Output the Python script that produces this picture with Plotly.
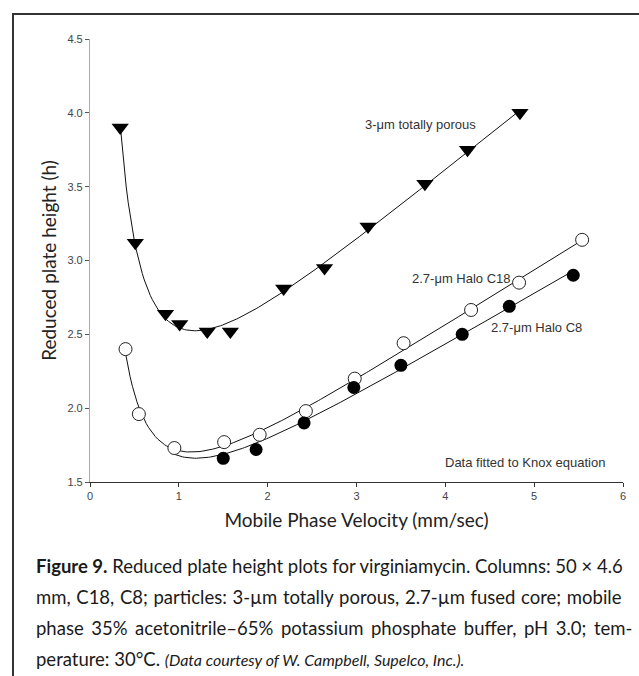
import numpy as np
import plotly.graph_objects as go

# ---- data ----
porous_x = [0.34, 0.51, 0.85, 1.01, 1.32, 1.58, 2.18, 2.64, 3.13, 3.77, 4.25, 4.84]
porous_y = [3.90, 3.12, 2.64, 2.57, 2.52, 2.52, 2.81, 2.95, 3.23, 3.52, 3.75, 4.00]

c18_x = [0.40, 0.55, 0.95, 1.51, 1.91, 2.43, 2.98, 3.53, 4.29, 4.83, 5.54]
c18_y = [2.40, 1.96, 1.73, 1.77, 1.82, 1.98, 2.20, 2.44, 2.665, 2.85, 3.14]

c8_x = [1.50, 1.87, 2.41, 2.97, 3.50, 4.19, 4.72, 5.44]
c8_y = [1.66, 1.72, 1.90, 2.14, 2.29, 2.50, 2.69, 2.90]

x_ticks = [0, 1, 2, 3, 4, 5, 6]
y_ticks = [1.5, 2.0, 2.5, 3.0, 3.5, 4.0, 4.5]

# ---- layout geometry (pixels) ----
W, H = 639, 676
L, R, T, B = 90, 623, 39, 482


def px(x):
    return (x - L) / (R - L)


def py(y):
    return (B - y) / (B - T)


def knox_fit(xs, ys, x0, x1):
    xs = np.asarray(xs, float)
    ys = np.asarray(ys, float)
    A = np.column_stack([xs ** (1 / 3), 1 / xs, xs])
    coef, *_ = np.linalg.lstsq(A, ys, rcond=None)
    xf = np.linspace(x0, x1, 200)
    yf = coef[0] * xf ** (1 / 3) + coef[1] / xf + coef[2] * xf
    return xf, yf


fig = go.Figure()

line_style = dict(color="#111111", width=1)

xf, yf = knox_fit(porous_x, porous_y, min(porous_x), max(porous_x))
fig.add_trace(go.Scatter(x=xf, y=yf, mode="lines", line=line_style, hoverinfo="skip"))
xf, yf = knox_fit(c18_x, c18_y, min(c18_x), max(c18_x))
fig.add_trace(go.Scatter(x=xf, y=yf, mode="lines", line=line_style, hoverinfo="skip"))
# C8 fit: use its own points plus the shared low-velocity C18 points
xf, yf = knox_fit(c8_x + c18_x[:3], c8_y + c18_y[:3], c18_x[2], max(c8_x))
fig.add_trace(go.Scatter(x=xf, y=yf, mode="lines", line=line_style, hoverinfo="skip"))

fig.add_trace(go.Scatter(x=porous_x, y=porous_y, mode="markers",
                         marker=dict(symbol="triangle-down", size=15, color="black",
                                     line=dict(width=0)), name="3-µm totally porous"))
fig.add_trace(go.Scatter(x=c18_x, y=c18_y, mode="markers",
                         marker=dict(symbol="circle", size=13, color="white",
                                     line=dict(width=1, color="#222222")), name="2.7-µm Halo C18"))
fig.add_trace(go.Scatter(x=c8_x, y=c8_y, mode="markers",
                         marker=dict(symbol="circle", size=13, color="black",
                                     line=dict(width=0)), name="2.7-µm Halo C8"))

tick_font = dict(family="Liberation Sans, Arial, sans-serif", size=11, color="#444444")
title_font = dict(family="Lato, Open Sans, sans-serif", size=19, color="#222222")

fig.update_layout(
    width=W, height=H,
    margin=dict(l=L, r=W - R, t=T, b=H - B),
    paper_bgcolor="white", plot_bgcolor="white",
    showlegend=False,
    xaxis=dict(range=[0, 6], tickvals=x_ticks, ticktext=[str(v) for v in x_ticks],
               showgrid=False, zeroline=False, showline=True, linecolor="#333333",
               linewidth=1.2, ticks="outside", ticklen=4, tickcolor="#333333",
               tickfont=tick_font,
               title=dict(text="Mobile Phase Velocity (mm/sec)", font=title_font, standoff=12)),
    yaxis=dict(range=[1.5, 4.5], tickvals=y_ticks, ticktext=[f"{v:.1f}" for v in y_ticks],
               showgrid=False, zeroline=False, showline=True, linecolor="#aaaaaa",
               linewidth=1.2, ticks="outside", ticklen=4, tickcolor="#555555",
               tickfont=tick_font,
               title=dict(text="Reduced plate height (h)", font=title_font, standoff=5)),
)

ann_font = dict(family="Liberation Sans, Arial, sans-serif", size=13, color="#333333")
fig.add_annotation(x=px(363), y=py(124), xref="paper", yref="paper", xanchor="left",
                   yanchor="middle", text="3-μm totally porous", showarrow=False, font=ann_font)
fig.add_annotation(x=px(410), y=py(278), xref="paper", yref="paper", xanchor="left",
                   yanchor="middle", text="2.7-μm Halo C18", showarrow=False, font=ann_font)
fig.add_annotation(x=px(489), y=py(327), xref="paper", yref="paper", xanchor="left",
                   yanchor="middle", text="2.7-μm Halo C8", showarrow=False, font=ann_font)
fig.add_annotation(x=px(443), y=py(462), xref="paper", yref="paper", xanchor="left",
                   yanchor="middle", text="Data fitted to Knox equation", showarrow=False,
                   font=ann_font)

# frame lines
fig.add_shape(type="line", xref="paper", yref="paper", x0=px(12), x1=px(640), y0=py(14),
              y1=py(14), line=dict(color="#333333", width=2))
fig.add_shape(type="line", xref="paper", yref="paper", x0=px(13), x1=px(13), y0=py(14),
              y1=py(680), line=dict(color="#333333", width=2))

cap_font = dict(family="Lato, Open Sans, sans-serif", size=18.5, color="#1a1a1a")
caption = [
    "<span style='word-spacing:0px'><b>Figure 9.</b> Reduced plate height plots for virginiamycin. Columns: 50 × 4.6</span>",
    "<span style='word-spacing:0.9px'>mm, C18, C8; particles: 3-µm totally porous, 2.7-µm fused core; mobile</span>",
    "<span style='word-spacing:2.8px'>phase 35% acetonitrile–65% potassium phosphate buffer, pH 3.0; tem-</span>",
    "perature: 30°C. <i><span style='font-size:16px'>(Data courtesy of W. Campbell, Supelco, Inc.).</span></i>",
]
cap_y = [566, 597, 628, 659]
for text, yy in zip(caption, cap_y):
    fig.add_annotation(x=px(34), y=py(yy), xref="paper", yref="paper", xanchor="left",
                       yanchor="middle", text=text, showarrow=False, font=cap_font)

fig.write_html("out.html")
